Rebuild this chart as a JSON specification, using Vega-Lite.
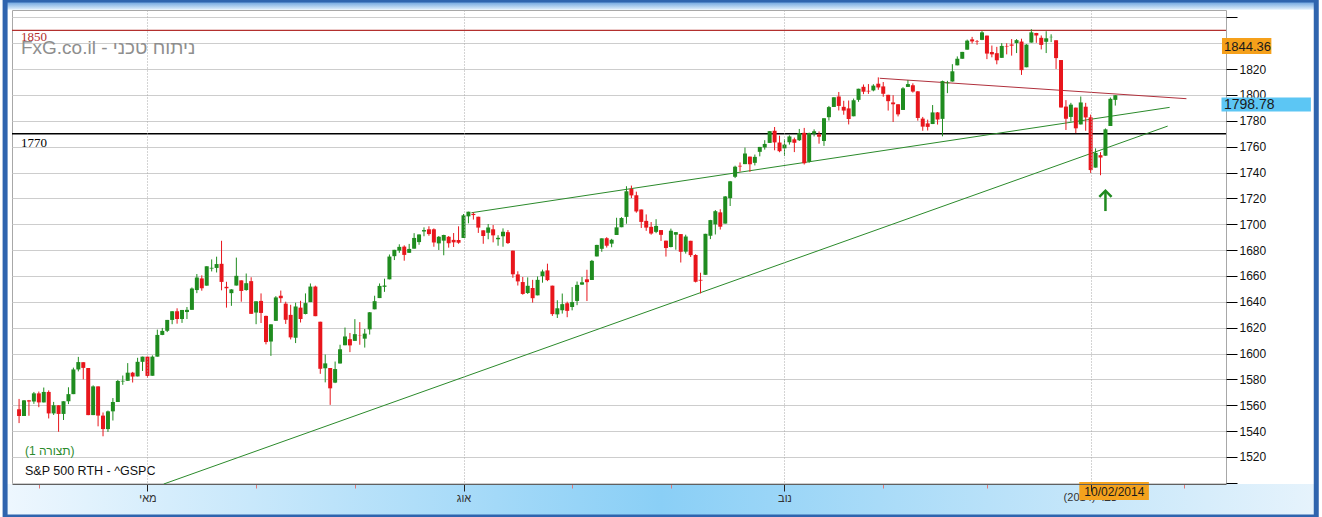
{
"$schema":"https://vega.github.io/schema/vega-lite/v6.json",
"width":1214,"height":474,
"autosize":{"type":"none"},
"padding":{"left":12,"top":10,"right":96,"bottom":33},
"background":"#ffffff",
"config":{"view":{"stroke":"#a8a8a8","fill":"#ffffff"},"font":"Liberation Sans","axis":{"labelOverlap":false,"labelSeparation":0,"labelBound":false}},
"datasets":{
"ohlc":[
{"i":0,"o":1556.9,"h":1564.9,"l":1546.2,"c":1551.7},{"i":1,"o":1551.7,"h":1564.0,"l":1551.7,"c":1563.8},{"i":2,"o":1563.8,"h":1564.1,"l":1551.9,"c":1562.9},{"i":3,"o":1562.9,"h":1570.3,"l":1561.1,"c":1569.2},
{"i":4,"o":1569.2,"h":1570.6,"l":1558.5,"c":1562.2},{"i":5,"o":1562.2,"h":1573.7,"l":1562.2,"c":1570.3},{"i":6,"o":1570.3,"h":1571.5,"l":1549.8,"c":1553.7},{"i":7,"o":1553.7,"h":1562.6,"l":1552.5,"c":1560.0},{"i":8,"o":1560.0,"h":1560.0,"l":1539.5,"c":1553.3},{"i":9,"o":1553.3,"h":1563.1,"l":1548.6,"c":1563.1},{"i":10,"o":1563.1,"h":1573.9,"l":1560.9,"c":1568.6},{"i":11,"o":1568.6,"h":1589.1,"l":1568.6,"c":1587.7},{"i":12,"o":1587.7,"h":1597.4,"l":1586.2,"c":1593.4},{"i":13,"o":1593.3,"h":1593.3,"l":1580.0,"c":1588.9},{"i":14,"o":1588.8,"h":1588.8,"l":1552.3,"c":1552.4},{"i":15,"o":1552.4,"h":1575.4,"l":1552.4,"c":1574.6},{"i":16,"o":1574.6,"h":1574.6,"l":1543.7,"c":1552.0},{"i":17,"o":1552.0,"h":1554.4,"l":1536.0,"c":1541.6},{"i":18,"o":1541.6,"h":1555.9,"l":1539.4,"c":1555.3},{"i":19,"o":1555.3,"h":1565.6,"l":1548.2,"c":1562.5},{"i":20,"o":1562.5,"h":1579.6,"l":1562.5,"c":1578.8},{"i":21,"o":1578.4,"h":1583.0,"l":1575.8,"c":1578.9},{"i":22,"o":1578.9,"h":1592.6,"l":1578.9,"c":1585.2},{"i":23,"o":1585.2,"h":1585.8,"l":1577.6,"c":1582.2},{"i":24,"o":1582.3,"h":1596.7,"l":1582.3,"c":1593.6},{"i":25,"o":1593.6,"h":1597.6,"l":1586.5,"c":1597.6},
{"i":26,"o":1597.6,"h":1597.6,"l":1581.3,"c":1582.7},{"i":27,"o":1582.8,"h":1598.6,"l":1582.8,"c":1597.6},{"i":28,"o":1597.6,"h":1618.5,"l":1597.6,"c":1614.4},{"i":29,"o":1614.4,"h":1619.8,"l":1614.2,"c":1617.5},{"i":30,"o":1617.6,"h":1626.0,"l":1616.6,"c":1626.0},{"i":31,"o":1626.0,"h":1632.8,"l":1622.7,"c":1632.7},{"i":32,"o":1632.7,"h":1635.0,"l":1623.1,"c":1626.7},{"i":33,"o":1626.7,"h":1633.7,"l":1623.7,"c":1633.7},{"i":34,"o":1632.1,"h":1636.0,"l":1626.7,"c":1633.8},{"i":35,"o":1633.8,"h":1651.1,"l":1633.8,"c":1650.3},{"i":36,"o":1649.1,"h":1661.5,"l":1646.7,"c":1658.8},{"i":37,"o":1658.1,"h":1660.5,"l":1648.6,"c":1650.5},{"i":38,"o":1652.5,"h":1667.5,"l":1652.5,"c":1667.5},{"i":39,"o":1665.7,"h":1672.8,"l":1663.5,"c":1666.3},{"i":40,"o":1666.2,"h":1674.9,"l":1662.7,"c":1669.2},{"i":41,"o":1669.4,"h":1687.2,"l":1648.9,"c":1655.4},{"i":42,"o":1651.6,"h":1655.5,"l":1635.5,"c":1650.5},{"i":43,"o":1646.7,"h":1649.8,"l":1636.9,"c":1649.6},{"i":44,"o":1652.6,"h":1674.2,"l":1652.6,"c":1660.1},{"i":45,"o":1656.6,"h":1656.6,"l":1640.1,"c":1648.4},{"i":46,"o":1649.1,"h":1661.9,"l":1648.6,"c":1654.4},{"i":47,"o":1656.0,"h":1659.0,"l":1630.7,"c":1630.7},
{"i":48,"o":1631.7,"h":1640.4,"l":1622.7,"c":1640.4},{"i":49,"o":1640.7,"h":1646.5,"l":1623.6,"c":1631.4},{"i":50,"o":1629.1,"h":1629.3,"l":1607.1,"c":1608.9},{"i":51,"o":1609.3,"h":1622.6,"l":1598.2,"c":1622.6},{"i":52,"o":1625.3,"h":1644.4,"l":1625.3,"c":1643.4},{"i":53,"o":1644.7,"h":1648.7,"l":1639.3,"c":1642.8},{"i":54,"o":1638.6,"h":1640.1,"l":1622.9,"c":1626.1},{"i":55,"o":1629.9,"h":1637.7,"l":1610.9,"c":1612.5},{"i":56,"o":1612.2,"h":1639.3,"l":1608.1,"c":1636.4},{"i":57,"o":1635.5,"h":1640.8,"l":1624.0,"c":1626.7},{"i":58,"o":1630.6,"h":1646.5,"l":1630.3,"c":1639.0},{"i":59,"o":1639.8,"h":1654.2,"l":1639.8,"c":1651.8},{"i":60,"o":1651.8,"h":1652.5,"l":1628.9,"c":1628.9},{"i":61,"o":1624.6,"h":1624.6,"l":1584.3,"c":1588.2},{"i":62,"o":1588.6,"h":1599.2,"l":1577.7,"c":1592.4},{"i":63,"o":1588.8,"h":1588.8,"l":1560.3,"c":1573.1},{"i":64,"o":1577.5,"h":1593.8,"l":1577.1,"c":1588.0},{"i":65,"o":1592.3,"h":1606.8,"l":1592.3,"c":1603.3},{"i":66,"o":1606.4,"h":1620.1,"l":1606.4,"c":1613.2},{"i":67,"o":1611.1,"h":1615.9,"l":1601.1,"c":1606.3},
{"i":68,"o":1609.8,"h":1626.6,"l":1609.8,"c":1615.0},{"i":69,"o":1614.3,"h":1624.3,"l":1606.8,"c":1614.1},{"i":70,"o":1611.5,"h":1619.0,"l":1604.6,"c":1615.4},{"i":71,"o":1618.7,"h":1632.1,"l":1614.7,"c":1631.9},{"i":72,"o":1634.2,"h":1644.7,"l":1634.2,"c":1640.5},{"i":73,"o":1642.9,"h":1654.2,"l":1642.9,"c":1652.3},{"i":74,"o":1651.6,"h":1657.9,"l":1647.7,"c":1652.6},{"i":75,"o":1657.4,"h":1676.6,"l":1657.4,"c":1675.0},{"i":76,"o":1675.3,"h":1680.2,"l":1672.3,"c":1680.2},{"i":77,"o":1679.6,"h":1684.5,"l":1677.9,"c":1682.5},{"i":78,"o":1682.7,"h":1683.7,"l":1671.8,"c":1676.3},{"i":79,"o":1677.9,"h":1684.8,"l":1677.9,"c":1680.9},{"i":80,"o":1681.1,"h":1693.1,"l":1681.1,"c":1689.4},{"i":81,"o":1686.2,"h":1692.1,"l":1684.1,"c":1692.1},{"i":82,"o":1694.4,"h":1697.6,"l":1690.7,"c":1695.5},{"i":83,"o":1696.1,"h":1698.4,"l":1691.1,"c":1692.4},{"i":84,"o":1696.1,"h":1696.8,"l":1682.6,"c":1685.9},{"i":85,"o":1685.2,"h":1690.9,"l":1680.1,"c":1690.3},{"i":86,"o":1687.3,"h":1691.9,"l":1676.0,"c":1691.7},{"i":87,"o":1690.3,"h":1690.9,"l":1681.9,"c":1685.3},{"i":88,"o":1687.9,"h":1693.2,"l":1682.4,"c":1686.0},{"i":89,"o":1687.8,"h":1698.4,"l":1684.9,"c":1685.7},
{"i":90,"o":1689.4,"h":1707.9,"l":1689.4,"c":1706.9},{"i":91,"o":1706.1,"h":1709.7,"l":1700.7,"c":1709.7},{"i":92,"o":1708.0,"h":1709.2,"l":1703.6,"c":1707.1},{"i":93,"o":1705.8,"h":1705.8,"l":1693.3,"c":1697.4},{"i":94,"o":1695.3,"h":1695.3,"l":1684.9,"c":1690.9},{"i":95,"o":1693.4,"h":1700.2,"l":1688.4,"c":1697.5},{"i":96,"o":1696.1,"h":1699.4,"l":1686.0,"c":1691.4},{"i":97,"o":1688.4,"h":1691.5,"l":1683.4,"c":1689.5},{"i":98,"o":1690.7,"h":1696.8,"l":1682.6,"c":1694.2},{"i":99,"o":1693.9,"h":1695.5,"l":1684.8,"c":1685.4},{"i":100,"o":1679.6,"h":1679.6,"l":1658.6,"c":1661.3},{"i":101,"o":1661.2,"h":1663.6,"l":1652.6,"c":1655.8},{"i":102,"o":1655.3,"h":1659.2,"l":1645.5,"c":1646.1},{"i":103,"o":1646.8,"h":1658.9,"l":1646.1,"c":1652.4},{"i":104,"o":1650.7,"h":1657.0,"l":1639.4,"c":1642.8},{"i":105,"o":1645.0,"h":1659.6,"l":1645.0,"c":1657.0},{"i":106,"o":1659.9,"h":1664.9,"l":1654.8,"c":1663.5},{"i":107,"o":1664.3,"h":1669.5,"l":1656.0,"c":1656.8},{"i":108,"o":1652.5,"h":1652.5,"l":1629.1,"c":1630.5},{"i":109,"o":1630.3,"h":1641.2,"l":1627.5,"c":1635.0},{"i":110,"o":1633.5,"h":1646.4,"l":1630.9,"c":1638.2},{"i":111,"o":1638.9,"h":1640.1,"l":1628.1,"c":1633.0},
{"i":112,"o":1636.0,"h":1651.4,"l":1633.4,"c":1639.8},{"i":113,"o":1640.7,"h":1655.7,"l":1637.4,"c":1653.1},{"i":114,"o":1653.3,"h":1659.2,"l":1653.1,"c":1655.1},{"i":115,"o":1657.4,"h":1664.8,"l":1640.6,"c":1655.2},{"i":116,"o":1656.9,"h":1672.4,"l":1656.9,"c":1671.7},{"i":117,"o":1675.1,"h":1684.1,"l":1675.1,"c":1684.0},{"i":118,"o":1681.0,"h":1689.1,"l":1678.7,"c":1689.1},{"i":119,"o":1689.2,"h":1690.0,"l":1682.0,"c":1683.4},{"i":120,"o":1685.0,"h":1688.7,"l":1682.2,"c":1688.0},{"i":121,"o":1691.7,"h":1705.0,"l":1691.7,"c":1697.6},{"i":122,"o":1697.7,"h":1705.5,"l":1697.7,"c":1704.8},{"i":123,"o":1705.7,"h":1729.4,"l":1700.4,"c":1725.5},{"i":124,"o":1727.3,"h":1729.9,"l":1720.2,"c":1722.3},{"i":125,"o":1722.4,"h":1725.2,"l":1708.9,"c":1709.9},{"i":126,"o":1711.4,"h":1711.4,"l":1697.1,"c":1701.8},{"i":127,"o":1702.6,"h":1707.6,"l":1694.9,"c":1697.4},{"i":128,"o":1698.0,"h":1701.7,"l":1691.9,"c":1692.8},{"i":129,"o":1694.1,"h":1703.9,"l":1693.1,"c":1698.7},{"i":130,"o":1695.5,"h":1695.5,"l":1687.1,"c":1691.8},{"i":131,"o":1687.3,"h":1687.3,"l":1675.0,"c":1681.6},
{"i":132,"o":1682.4,"h":1696.6,"l":1682.1,"c":1695.0},{"i":133,"o":1691.9,"h":1693.9,"l":1680.3,"c":1693.9},{"i":134,"o":1692.4,"h":1692.4,"l":1670.4,"c":1678.7},{"i":135,"o":1678.8,"h":1691.9,"l":1677.3,"c":1690.5},{"i":136,"o":1687.2,"h":1687.2,"l":1674.7,"c":1676.1},{"i":137,"o":1676.2,"h":1676.8,"l":1655.0,"c":1655.5},{"i":138,"o":1657.0,"h":1662.5,"l":1646.5,"c":1656.4},{"i":139,"o":1660.9,"h":1692.6,"l":1660.9,"c":1692.6},{"i":140,"o":1691.1,"h":1703.4,"l":1688.5,"c":1703.2},{"i":141,"o":1699.9,"h":1711.0,"l":1692.1,"c":1710.1},{"i":142,"o":1709.2,"h":1711.6,"l":1695.9,"c":1698.1},{"i":143,"o":1700.5,"h":1721.8,"l":1700.5,"c":1721.5},{"i":144,"o":1720.2,"h":1733.5,"l":1714.1,"c":1733.2},{"i":145,"o":1736.7,"h":1745.3,"l":1735.7,"c":1744.5},{"i":146,"o":1745.2,"h":1747.8,"l":1740.7,"c":1744.7},{"i":147,"o":1746.5,"h":1759.3,"l":1746.5,"c":1754.7},{"i":148,"o":1752.3,"h":1752.3,"l":1740.5,"c":1746.4},{"i":149,"o":1747.5,"h":1753.9,"l":1745.5,"c":1752.1},{"i":150,"o":1756.0,"h":1759.8,"l":1752.5,"c":1759.8},{"i":151,"o":1759.4,"h":1765.0,"l":1757.7,"c":1762.1},{"i":152,"o":1762.9,"h":1772.1,"l":1762.9,"c":1772.0},{"i":153,"o":1772.3,"h":1775.2,"l":1757.2,"c":1763.3},{"i":154,"o":1763.2,"h":1768.5,"l":1755.7,"c":1756.5},
{"i":155,"o":1758.7,"h":1765.7,"l":1752.7,"c":1761.6},{"i":156,"o":1763.4,"h":1768.8,"l":1761.6,"c":1767.9},{"i":157,"o":1765.7,"h":1767.0,"l":1755.8,"c":1763.0},{"i":158,"o":1765.0,"h":1773.7,"l":1764.4,"c":1770.5},{"i":159,"o":1770.7,"h":1774.5,"l":1746.2,"c":1747.2},{"i":160,"o":1748.4,"h":1770.8,"l":1747.6,"c":1770.6},{"i":161,"o":1770.0,"h":1773.4,"l":1767.9,"c":1771.9},{"i":162,"o":1769.5,"h":1771.8,"l":1762.3,"c":1767.7},{"i":163,"o":1764.4,"h":1782.0,"l":1760.6,"c":1782.0},{"i":164,"o":1782.8,"h":1791.5,"l":1780.2,"c":1790.6},{"i":165,"o":1790.7,"h":1798.2,"l":1790.7,"c":1798.2},{"i":166,"o":1798.8,"h":1802.3,"l":1788.0,"c":1791.5},{"i":167,"o":1790.8,"h":1795.5,"l":1784.7,"c":1787.9},{"i":168,"o":1789.6,"h":1795.7,"l":1777.2,"c":1781.4},{"i":169,"o":1783.5,"h":1797.2,"l":1783.5,"c":1795.9},{"i":170,"o":1796.2,"h":1804.8,"l":1794.7,"c":1804.8},{"i":171,"o":1806.3,"h":1808.1,"l":1800.6,"c":1802.5},{"i":172,"o":1803.2,"h":1808.4,"l":1800.8,"c":1802.7},{"i":173,"o":1803.5,"h":1808.3,"l":1802.8,"c":1807.2},{"i":174,"o":1808.7,"h":1813.6,"l":1804.0,"c":1805.8},
{"i":175,"o":1806.6,"h":1810.0,"l":1798.6,"c":1800.9},{"i":176,"o":1800.1,"h":1800.1,"l":1787.9,"c":1795.2},{"i":177,"o":1794.2,"h":1799.8,"l":1779.1,"c":1792.8},{"i":178,"o":1792.8,"h":1792.8,"l":1783.4,"c":1785.0},{"i":179,"o":1788.4,"h":1806.0,"l":1788.4,"c":1805.1},{"i":180,"o":1806.2,"h":1811.5,"l":1806.2,"c":1808.4},{"i":181,"o":1807.5,"h":1809.0,"l":1801.8,"c":1802.6},{"i":182,"o":1802.8,"h":1803.0,"l":1780.1,"c":1782.2},{"i":183,"o":1781.7,"h":1783.0,"l":1772.3,"c":1775.5},{"i":184,"o":1778.0,"h":1780.9,"l":1772.5,"c":1775.3},{"i":185,"o":1777.5,"h":1792.2,"l":1777.5,"c":1786.5},{"i":186,"o":1786.5,"h":1786.8,"l":1777.1,"c":1781.0},{"i":187,"o":1781.5,"h":1811.1,"l":1768.0,"c":1810.7},{"i":188,"o":1809.0,"h":1810.9,"l":1801.4,"c":1809.6},{"i":189,"o":1810.4,"h":1823.8,"l":1810.3,"c":1818.3},{"i":190,"o":1822.9,"h":1829.8,"l":1822.9,"c":1828.0},{"i":191,"o":1828.0,"h":1833.3,"l":1828.0,"c":1833.3},{"i":192,"o":1835.0,"h":1842.8,"l":1835.0,"c":1842.0},{"i":193,"o":1843.0,"h":1844.9,"l":1839.8,"c":1841.4},{"i":194,"o":1841.5,"h":1842.5,"l":1838.8,"c":1841.1},{"i":195,"o":1842.6,"h":1849.4,"l":1842.4,"c":1848.4},
{"i":196,"o":1845.9,"h":1845.9,"l":1827.7,"c":1832.0},{"i":197,"o":1833.2,"h":1838.2,"l":1829.1,"c":1831.4},{"i":198,"o":1832.3,"h":1837.2,"l":1823.7,"c":1826.8},{"i":199,"o":1828.7,"h":1840.1,"l":1828.7,"c":1837.9},{"i":200,"o":1837.9,"h":1840.0,"l":1831.4,"c":1837.5},{"i":201,"o":1839.0,"h":1843.2,"l":1830.4,"c":1838.1},{"i":202,"o":1840.1,"h":1843.2,"l":1832.4,"c":1842.4},{"i":203,"o":1841.3,"h":1843.5,"l":1815.5,"c":1819.2},{"i":204,"o":1821.4,"h":1839.3,"l":1821.4,"c":1838.9},{"i":205,"o":1840.5,"h":1850.8,"l":1840.5,"c":1848.4},{"i":206,"o":1848.0,"h":1848.0,"l":1840.3,"c":1845.9},{"i":207,"o":1844.2,"h":1846.0,"l":1835.2,"c":1838.7},{"i":208,"o":1841.1,"h":1849.3,"l":1832.4,"c":1843.8},{"i":209,"o":1844.7,"h":1846.9,"l":1840.9,"c":1844.9},{"i":210,"o":1842.3,"h":1842.3,"l":1820.1,"c":1828.5},{"i":211,"o":1827.0,"h":1827.0,"l":1790.3,"c":1790.3},{"i":212,"o":1791.0,"h":1796.0,"l":1772.9,"c":1781.6},{"i":213,"o":1783.0,"h":1793.9,"l":1779.5,"c":1792.5},{"i":214,"o":1790.2,"h":1790.2,"l":1770.5,"c":1774.2},{"i":215,"o":1777.2,"h":1798.8,"l":1777.2,"c":1794.2},{"i":216,"o":1790.9,"h":1793.9,"l":1772.3,"c":1782.6},
{"i":217,"o":1782.7,"h":1784.8,"l":1739.7,"c":1741.9},{"i":218,"o":1743.8,"h":1758.7,"l":1743.8,"c":1755.2},{"i":219,"o":1753.4,"h":1755.8,"l":1737.9,"c":1751.6},{"i":220,"o":1753.0,"h":1774.1,"l":1753.0,"c":1773.4},{"i":221,"o":1776.0,"h":1798.0,"l":1776.0,"c":1797.0},{"i":222,"o":1796.2,"h":1799.9,"l":1791.8,"c":1799.8}
],
"trend":[
{"x":29.3,"y":1499.1,"x2":232.6,"y2":1775.9,"k":"support"},
{"x":91.6,"y":1708.9,"x2":233.0,"y2":1790.4,"k":"support"},
{"x":174.3,"y":1812.9,"x2":236.4,"y2":1797.1,"k":"resistance"}
]
},
"layer":[
{"data":{"values":[{}]},
 "mark":{"type":"rect","fill":{"gradient":"linear","x1":0,"y1":0,"x2":1,"y2":0,"stops":[{"offset":0,"color":"#eef7fe"},{"offset":0.5,"color":"#8acff6"},{"offset":1,"color":"#e6f3fc"}]}},
 "encoding":{
  "x":{"datum":-2.83,"type":"quantitative","scale":{"domain":[-0.42,243.4],"nice":false,"zero":false},
   "axis":{"values":[4,26,48,68,90,112,132,155,175,196,217,236],"tickCount":40,"title":null,"zindex":1,
    "labelExpr":"datum.value==26?'מאי':datum.value==90?'אוג':datum.value==155?'נוב':''",
    "labelFont":"Liberation Sans","labelFontSize":11,"labelColor":"#333333","labelPadding":1,"labelOverlap":false,
    "domainColor":"#606060","domainWidth":1,
    "tickColor":{"condition":{"test":"datum.value==26||datum.value==90||datum.value==155||datum.value==217","value":"#222222"},"value":"#e07878"},
    "tickSize":{"condition":{"test":"datum.value==26||datum.value==90||datum.value==155||datum.value==217","value":7},"value":4},
    "grid":true,"gridDash":[1,2],"gridColor":"#a8a8a8",
    "gridOpacity":{"condition":{"test":"datum.value==26||datum.value==90||datum.value==155||datum.value==217","value":1},"value":0}}},
  "x2":{"datum":262.69},
  "y":{"datum":1499.1,"type":"quantitative","scale":{"domain":[1499.1,1865.7],"nice":false,"zero":false},
   "axis":{"orient":"right","values":[1500,1520,1540,1560,1580,1600,1620,1640,1660,1680,1700,1720,1740,1760,1780,1800,1820,1840,1860],"tickCount":40,
    "title":null,"format":"d","labelOverlap":false,"labelSeparation":0,"labelExpr":"datum.value==1500||datum.value==1860?'':datum.label","labelFont":"Liberation Sans","labelFontSize":12,"labelColor":"#111111",
    "labelPadding":2,"tickColor":"#000000","tickSize":11,"domain":false,"grid":true,"gridColor":"#cdcdcd","gridWidth":1}},
  "y2":{"datum":1473.6}}},
{"data":{"values":[{}]},
 "mark":{"type":"rect","fill":{"gradient":"linear","x1":0,"y1":0,"x2":0,"y2":1,"stops":[{"offset":0,"color":"#4f8fd6"},{"offset":1,"color":"#e2f0fc"}]}},
 "encoding":{"x":{"datum":-2.83},"x2":{"datum":262.69},"y":{"datum":1873.4,"axis":{"orient":"right"}},"y2":{"datum":1865.9}}},
{"data":{"values":[{}]},"mark":{"type":"rule","color":"#b3302e","strokeWidth":1.2},"encoding":{"y":{"datum":1850,"axis":{"orient":"right"}}}},
{"data":{"values":[{}]},"mark":{"type":"rule","color":"#000000","strokeWidth":1.5},"encoding":{"y":{"datum":1770,"axis":{"orient":"right"}}}},
{"data":{"name":"trend"},
 "mark":{"type":"rule","strokeWidth":1},
 "encoding":{"x":{"field":"x","type":"quantitative"},"y":{"field":"y","type":"quantitative","axis":{"orient":"right"}},"x2":{"field":"x2"},"y2":{"field":"y2"},
  "color":{"condition":{"test":"datum.k=='resistance'","value":"#b0303c"},"value":"#2b8a2b"}}},
{"data":{"name":"ohlc"},
 "mark":{"type":"rule","strokeWidth":1},
 "encoding":{"x":{"field":"i","type":"quantitative"},"y":{"field":"l","type":"quantitative","axis":{"orient":"right"}},"y2":{"field":"h"},
  "color":{"condition":{"test":"datum.c>=datum.o","value":"#1f8c1f"},"value":"#e8161c"}}},
{"data":{"name":"ohlc"},
 "mark":{"type":"bar","width":4},
 "encoding":{"x":{"field":"i","type":"quantitative"},"y":{"field":"o","type":"quantitative","axis":{"orient":"right"}},"y2":{"field":"c"},
  "color":{"condition":{"test":"datum.c>=datum.o","value":"#1f8c1f"},"value":"#e8161c"}}},
{"data":{"values":[{}]},"mark":{"type":"rule","color":"#1f8a1f","strokeWidth":2.5},
 "encoding":{"x":{"datum":220},"y":{"datum":1710.2,"axis":{"orient":"right"}},"y2":{"datum":1725.5}}},
{"data":{"values":[{}]},"mark":{"type":"point","shape":"M-1,0.9L0,-0.1L1,0.9","filled":false,"stroke":"#1f8a1f","strokeWidth":2.5,"size":150,"opacity":1},
 "encoding":{"x":{"datum":220},"y":{"datum":1725.5,"axis":{"orient":"right"}}}},
{"data":{"values":[{}]},"mark":{"type":"text","text":"FxG.co.il - ניתוח טכני","align":"left","baseline":"alphabetic","font":"Liberation Sans","fontSize":19,"color":"#8e8e8e"},
 "encoding":{"x":{"datum":0.38},"y":{"datum":1831.7,"axis":{"orient":"right"}}}},
{"data":{"values":[{}]},"mark":{"type":"text","text":"1850","align":"left","baseline":"alphabetic","font":"Liberation Serif","fontSize":13,"color":"#b3302e"},
 "encoding":{"x":{"datum":0.38},"y":{"datum":1841.7,"axis":{"orient":"right"}}}},
{"data":{"values":[{}]},"mark":{"type":"text","text":"1770","align":"left","baseline":"alphabetic","font":"Liberation Serif","fontSize":13,"color":"#000000"},
 "encoding":{"x":{"datum":0.38},"y":{"datum":1759.7,"axis":{"orient":"right"}}}},
{"data":{"values":[{}]},"mark":{"type":"text","text":"(1 תצורה)","align":"left","baseline":"alphabetic","font":"Liberation Sans","fontSize":12,"color":"#2b8a2b"},
 "encoding":{"x":{"datum":1.2},"y":{"datum":1521.5,"axis":{"orient":"right"}}}},
{"data":{"values":[{}]},"mark":{"type":"text","text":"S&P 500 RTH - ^GSPC","align":"left","baseline":"alphabetic","font":"Liberation Sans","fontSize":12.5,"color":"#111111"},
 "encoding":{"x":{"datum":1.2},"y":{"datum":1506.1,"axis":{"orient":"right"}}}},
{"data":{"values":[{}]},"mark":{"type":"text","text":"(2014) פבר","align":"center","baseline":"alphabetic","font":"Liberation Sans","fontSize":11,"color":"#333333"},
 "encoding":{"x":{"datum":217},"y":{"datum":1485.9,"axis":{"orient":"right"}}}},
{"data":{"values":[{"t":"10/02/2014"}]},"mark":{"type":"rect","fill":"#f4a21d"},
 "encoding":{"x":{"datum":214.7},"x2":{"datum":228.8},"y":{"datum":1500.6,"axis":{"orient":"right"}},"y2":{"datum":1486.7}}},
{"data":{"values":[{"t":"10/02/2014"}]},"mark":{"type":"text","align":"center","baseline":"alphabetic","font":"Liberation Sans","fontSize":12,"color":"#1a1a1a"},
 "encoding":{"x":{"datum":221.8},"y":{"datum":1489.6,"axis":{"orient":"right"}},"text":{"field":"t"}}},
{"data":{"values":[{"t":"1844.36"}]},"mark":{"type":"rect","fill":"#f5a01a"},
 "encoding":{"x":{"datum":243.6},"x2":{"datum":253.6},"y":{"datum":1844.0,"axis":{"orient":"right"}},"y2":{"datum":1831.6}}},
{"data":{"values":[{"t":"1844.36"}]},"mark":{"type":"text","align":"left","baseline":"alphabetic","font":"Liberation Sans","fontSize":13,"color":"#1a1a1a"},
 "encoding":{"x":{"datum":244.0},"y":{"datum":1834.0,"axis":{"orient":"right"}},"text":{"field":"t"}}},
{"data":{"values":[{"t":"1798.78"}]},"mark":{"type":"rect","fill":"#5cc6f4"},
 "encoding":{"x":{"datum":243.5},"x2":{"datum":261.6},"y":{"datum":1798.0,"axis":{"orient":"right"}},"y2":{"datum":1787.2}}},
{"data":{"values":[{"t":"1798.78"}]},"mark":{"type":"text","align":"left","baseline":"alphabetic","font":"Liberation Sans","fontSize":14,"color":"#1a1a1a"},
 "encoding":{"x":{"datum":244.0},"y":{"datum":1789.0,"axis":{"orient":"right"}},"text":{"field":"t"}}},
{"data":{"values":[{}]},"mark":{"type":"rect","fill":null,"fillOpacity":0,"stroke":"#2f64ae","strokeWidth":5},
 "encoding":{"x":{"datum":-2.83},"x2":{"datum":262.69},"y":{"datum":1873.4,"axis":{"orient":"right"}},"y2":{"datum":1473.6}}}
]
}
